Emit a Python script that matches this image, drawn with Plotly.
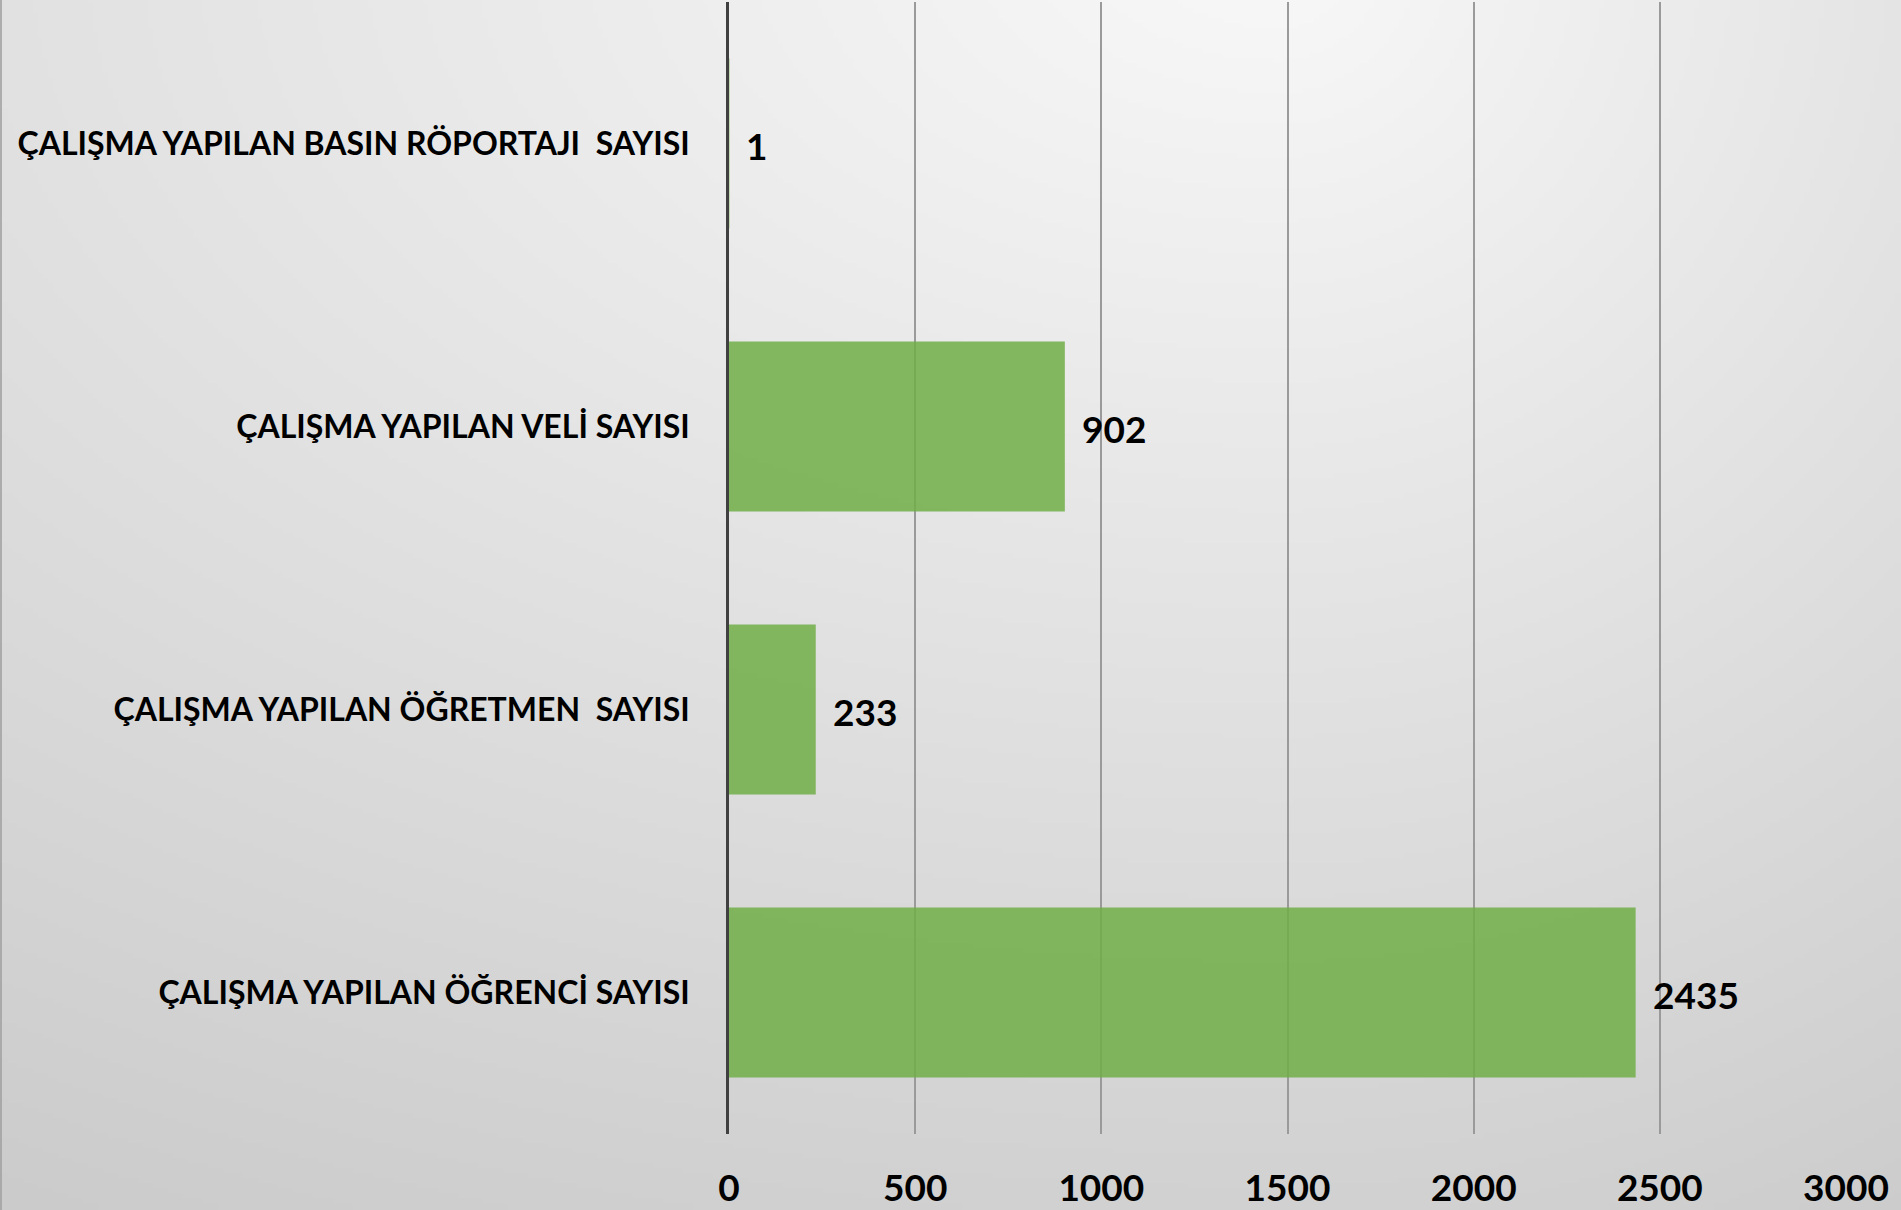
import base64
import math
import struct
import zlib

import plotly.graph_objects as go

# ---------------- data ----------------
categories = [
    "ÇALIŞMA YAPILAN ÖĞRENCİ SAYISI",
    "ÇALIŞMA YAPILAN ÖĞRETMEN  SAYISI",
    "ÇALIŞMA YAPILAN VELİ SAYISI",
    "ÇALIŞMA YAPILAN BASIN RÖPORTAJI  SAYISI",
]
values = [2435, 233, 902, 1]
x_ticks = [0, 500, 1000, 1500, 2000, 2500, 3000]

# ---------------- layout geometry ----------------
W, H = 1901, 1210
ML, MR, MT, MB = 729, 55, 2, 76
PW, PH = W - ML - MR, H - MT - MB


# ---------------- background gradient image (styling only) ----------------
def gradient_png(w, h):
    raw = bytearray()
    for j in range(h):
        raw.append(0)
        y = (j + 0.5) / h * H
        for i in range(w):
            x = (i + 0.5) / w * W
            dx = x - 1280
            ax = 1280 if dx < 0 else 720
            dy = y + 50
            r = math.sqrt((dx / ax) ** 2 + (dy / 740) ** 2)
            v = 248 - 23 * r
            raw.append(max(0, min(255, int(round(v)))))

    def chunk(tag, data):
        return (struct.pack(">I", len(data)) + tag + data
                + struct.pack(">I", zlib.crc32(tag + data) & 0xFFFFFFFF))

    png = b"\x89PNG\r\n\x1a\n"
    png += chunk(b"IHDR", struct.pack(">IIBBBBB", w, h, 8, 0, 0, 0, 0))
    png += chunk(b"IDAT", zlib.compress(bytes(raw), 9))
    png += chunk(b"IEND", b"")
    return "data:image/png;base64," + base64.b64encode(png).decode()


bg = gradient_png(380, 242)

FONT = "Lato"

fig = go.Figure()
fig.add_trace(go.Bar(
    y=categories,
    x=values,
    orientation="h",
    width=0.6,
    marker=dict(color="rgba(112,173,71,0.85)", line=dict(width=0)),
    hoverinfo="x+y",
    showlegend=False,
))

annotations = [
    dict(
        x=v, y=c, xref="x", yref="y",
        text=str(v), showarrow=False,
        xanchor="left", yanchor="middle", xshift=15, yshift=-2,
        font=dict(family=FONT, size=37, color="#000000", weight="bold"),
    )
    for c, v in zip(categories, values)
]

# thin dark strip at the far left edge of the slide
shapes = [dict(
    type="line", xref="paper", yref="paper",
    x0=-ML / PW + 1 / PW, x1=-ML / PW + 1 / PW, y0=-MB / PH, y1=1 + MT / PH,
    line=dict(color="rgba(160,160,160,0.8)", width=2), layer="below",
)]

fig.update_layout(
    width=W, height=H,
    margin=dict(l=ML, r=MR, t=MT, b=MB, pad=0, autoexpand=False),
    paper_bgcolor="rgba(0,0,0,0)",
    plot_bgcolor="rgba(0,0,0,0)",
    bargap=0.4,
    annotations=annotations,
    shapes=shapes,
    images=[dict(
        source=bg, xref="paper", yref="paper",
        x=-ML / PW, y=1 + MT / PH,
        sizex=W / PW, sizey=H / PH,
        xanchor="left", yanchor="top",
        sizing="stretch", layer="below",
    )],
    xaxis=dict(
        range=[0, 3000],
        tickvals=x_ticks,
        ticktext=[str(t) for t in x_ticks],
        showgrid=True, gridcolor="#9a9a9a", gridwidth=2,
        zeroline=False, showline=False, ticks="",
        ticklabelstandoff=29,
        automargin=False,
        tickfont=dict(family=FONT, size=37, color="#000000", weight="bold"),
        fixedrange=True,
    ),
    yaxis=dict(
        categoryorder="array", categoryarray=categories,
        range=[-0.5, 3.5],
        showgrid=False, zeroline=False,
        showline=True, linecolor="#404040", linewidth=2.5,
        ticks="", ticklabelstandoff=30,
        automargin=False,
        tickfont=dict(family=FONT, size=32, color="#000000", weight="bold"),
        fixedrange=True,
    ),
)

fig.write_html(
    "out.html",
    config={"displayModeBar": False},
    post_script="document.body.style.margin='0';document.body.style.overflow='hidden';",
)
